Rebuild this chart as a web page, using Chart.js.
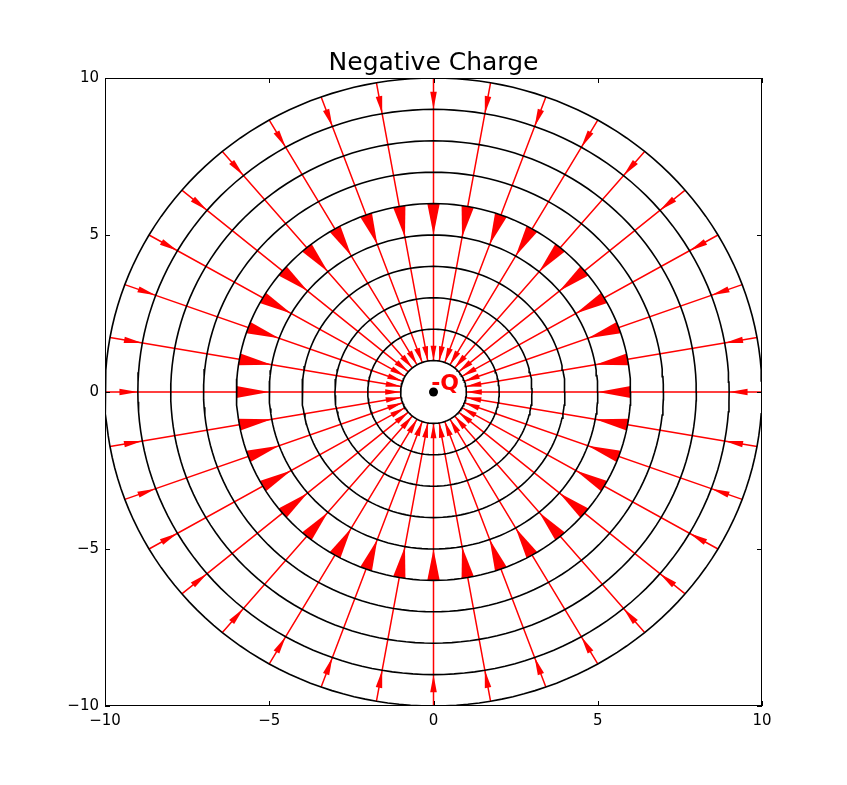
<!DOCTYPE html>
<html>
<head>
<meta charset="utf-8">
<title>Negative Charge</title>
<script src="https://cdn.jsdelivr.net/npm/chart.js@4.4.1/dist/chart.umd.min.js"></script>
<style>
  html, body { margin: 0; padding: 0; background: #fff; }
  canvas { display: block; }
</style>
</head>
<body>
<canvas id="chart" width="847" height="785"></canvas>
<script>
// field line directions (degrees)
const fieldAngles = [0, 10, 20, 30, 40, 50, 60, 70, 80, 90, 100, 110,
                     120, 130, 140, 150, 160, 170, 180, 190, 200, 210, 220, 230,
                     240, 250, 260, 270, 280, 290, 300, 310, 320, 330, 340, 350];
// equipotential circles
const circleRadii = [1, 2, 3, 4, 5, 6, 7, 8, 9, 10];
// field lines run between these radii
const lineStart = 1;
const lineEnd = 10;
// radius where each arrowhead points to
const arrowTips = [1, 5, 9];
const tickValues = [-10, -5, 0, 5, 10];
const chargeLabel = '-Q';

// arrowhead shape per tip (length and half width, data units)
const arrowShape = [
  { len: 0.47, half: 0.09 },
  { len: 1.0, half: 0.19 },
  { len: 0.56, half: 0.1 }
];

const font = 'DejaVu Sans';
const rad = d => d * Math.PI / 180;

function ring(r) {
  const pts = [];
  for (let a = 0; a <= 360; a += 2) {
    pts.push({ x: r * Math.cos(rad(a)), y: r * Math.sin(rad(a)) });
  }
  return pts;
}

function fieldLines() {
  const pts = [];
  fieldAngles.forEach(a => {
    pts.push({ x: lineStart * Math.cos(rad(a)), y: lineStart * Math.sin(rad(a)) });
    pts.push({ x: lineEnd * Math.cos(rad(a)), y: lineEnd * Math.sin(rad(a)) });
    pts.push({ x: null, y: null });
  });
  return pts;
}

const datasets = [];
datasets.push({
  label: 'charge',
  data: [{ x: 0, y: 0 }],
  showLine: false,
  pointRadius: 4.5,
  pointBackgroundColor: '#000',
  pointBorderWidth: 0,
  order: 0
});
circleRadii.forEach(r => {
  datasets.push({
    label: 'r=' + r,
    data: ring(r),
    showLine: true,
    borderColor: '#000',
    borderWidth: 1.6,
    pointRadius: 0,
    fill: false,
    order: 1
  });
});
datasets.push({
  label: 'field lines',
  data: fieldLines(),
  showLine: true,
  spanGaps: false,
  borderColor: '#ff0000',
  borderWidth: 1.5,
  pointRadius: 0,
  fill: false,
  order: 2
});

const fmt = v => v < 0 ? '\u2212' + Math.abs(v) : String(v);

const fieldPlugin = {
  id: 'field',
  afterDatasetDraw(chart, args) {
    if (chart.data.datasets[args.index].label !== 'field lines') return;
    const { ctx, chartArea: a, scales: { x, y } } = chart;
    const px = (vx, vy) => [x.getPixelForValue(vx), y.getPixelForValue(vy)];
    ctx.save();
    ctx.beginPath();
    ctx.rect(a.left, a.top, a.right - a.left, a.bottom - a.top);
    ctx.clip();
    ctx.fillStyle = '#ff0000';
    fieldAngles.forEach(deg => {
      const c = Math.cos(rad(deg)), s = Math.sin(rad(deg));
      arrowTips.forEach((tip, i) => {
        const { len, half } = arrowShape[i];
        const b = tip + len;
        const p0 = px(tip * c, tip * s);
        const p1 = px(b * c - half * s, b * s + half * c);
        const p2 = px(b * c + half * s, b * s - half * c);
        ctx.beginPath();
        ctx.moveTo(p0[0], p0[1]);
        ctx.lineTo(p1[0], p1[1]);
        ctx.lineTo(p2[0], p2[1]);
        ctx.closePath();
        ctx.fill();
      });
    });
    ctx.restore();
  },
  afterDraw(chart) {
    const { ctx, chartArea: a, scales: { x, y } } = chart;
    ctx.save();
    // frame
    ctx.strokeStyle = '#000';
    ctx.lineWidth = 1;
    ctx.strokeRect(a.left + 0.5, a.top + 0.5, a.right - a.left - 1, a.bottom - a.top - 1);
    // inward ticks on all sides
    const tl = 5;
    ctx.beginPath();
    tickValues.forEach(v => {
      const xp = Math.round(x.getPixelForValue(v)) + 0.5;
      ctx.moveTo(xp, a.bottom); ctx.lineTo(xp, a.bottom - tl);
      ctx.moveTo(xp, a.top); ctx.lineTo(xp, a.top + tl);
      const yp = Math.round(y.getPixelForValue(v)) + 0.5;
      ctx.moveTo(a.left, yp); ctx.lineTo(a.left + tl, yp);
      ctx.moveTo(a.right, yp); ctx.lineTo(a.right - tl, yp);
    });
    ctx.stroke();
    // charge label
    ctx.fillStyle = '#ff0000';
    ctx.font = 'bold 22px "' + font + '"';
    ctx.textAlign = 'left';
    ctx.textBaseline = 'alphabetic';
    ctx.fillText(chargeLabel, x.getPixelForValue(-0.07), y.getPixelForValue(0.06));
    ctx.restore();
  }
};

const axis = (fitFn) => ({
  type: 'linear',
  min: -10,
  max: 10,
  grid: { display: false, drawTicks: false },
  border: { display: false },
  ticks: {
    color: '#000',
    font: { family: font, size: 15 },
    padding: 6,
    maxRotation: 0,
    autoSkip: false,
    callback: fmt
  },
  afterBuildTicks: s => { s.ticks = tickValues.map(v => ({ value: v })); },
  afterFit: fitFn
});

new Chart(document.getElementById('chart'), {
  type: 'scatter',
  data: { datasets },
  options: {
    responsive: false,
    devicePixelRatio: 1,
    animation: false,
    layout: { padding: { top: 0, right: 85, bottom: 0, left: 0 } },
    scales: {
      x: axis(s => { s.height = 79; }),
      y: axis(s => { s.width = 105; })
    },
    plugins: {
      legend: { display: false },
      tooltip: { enabled: false },
      title: {
        display: true,
        text: 'Negative Charge',
        color: '#000',
        fullSize: false,
        font: { family: font, size: 25, weight: 'normal', lineHeight: 1.2 },
        padding: { top: 48, bottom: 0 }
      }
    }
  },
  plugins: [fieldPlugin]
});
</script>
</body>
</html>
